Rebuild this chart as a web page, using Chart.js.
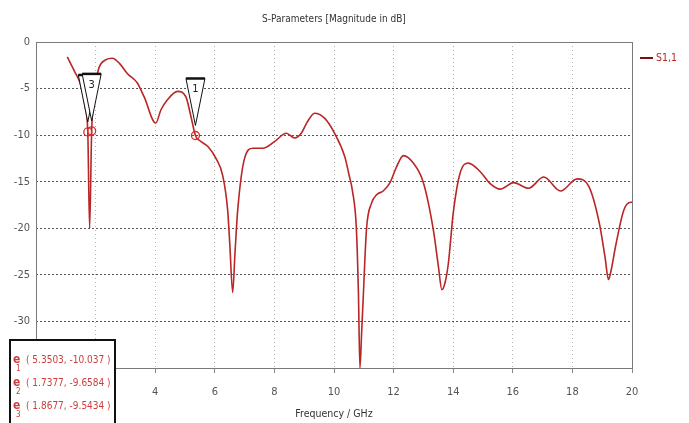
<!DOCTYPE html>
<html>
<head>
<meta charset="utf-8">
<script src="https://cdn.jsdelivr.net/npm/chart.js@4.4.1/dist/chart.umd.min.js"></script>
<style>
html,body{margin:0;padding:0;background:#fff;}
#wrap{width:689px;height:423px;position:relative;}
</style>
</head>
<body>
<div id="wrap"><canvas id="c" width="689" height="423"></canvas></div>
<script>
const chartTitle = 'S-Parameters [Magnitude in dB]';
const xTitle = 'Frequency / GHz';
const seriesName = 'S1,1';
const xTicks = [0, 2, 4, 6, 8, 10, 12, 14, 16, 18, 20];
const yTicks = [0, -5, -10, -15, -20, -25, -30, -35];
const freq = [1.05,1.3,1.5,1.65,1.7377,1.80,1.8677,1.95,2.03,2.11,2.35,2.56,2.8,3.07,3.4,3.63,4.02,4.19,4.41,4.75,5.03,5.2,5.3503,5.5,5.76,6.04,6.27,6.43,6.5,6.6,6.68,6.77,6.99,7.28,7.61,8.0,8.4,8.68,8.9,9.1,9.35,9.69,10.02,10.36,10.5,10.62,10.75,10.82,10.87,10.93,10.98,11.09,11.26,11.43,11.65,11.88,12.1,12.33,12.66,13.0,13.33,13.5,13.62,13.73,13.84,14.0,14.23,14.51,14.9,15.24,15.58,16.03,16.53,17.04,17.6,18.16,18.55,18.9,19.1,19.21,19.3,19.45,19.73,19.96,20.0];
const s11 = [-1.6,-3.2,-4.6,-7.0,-9.66,-20,-9.54,-6.0,-4.0,-2.8,-1.9,-1.75,-2.3,-3.4,-4.4,-5.9,-8.7,-7.3,-6.2,-5.3,-5.9,-8.0,-10.04,-10.6,-11.2,-12.5,-14.4,-18,-21.5,-26.9,-22.5,-18,-12.6,-11.4,-11.4,-10.7,-9.8,-10.3,-9.8,-8.6,-7.65,-8.2,-9.8,-12.3,-14.2,-16.0,-20,-27,-35,-31,-27.5,-20.1,-17.3,-16.4,-16.0,-15.1,-13.4,-12.2,-13.0,-15.1,-20.1,-24,-26.6,-25.8,-23.7,-18.4,-14.1,-13.0,-13.9,-15.2,-15.8,-15.1,-15.7,-14.5,-16.0,-14.7,-15.5,-19.4,-23.2,-25.5,-24.5,-21.9,-18.0,-17.2,-17.2];
const markerIds = ['1', '2', '3'];
const markerFreq = [5.3503, 1.7377, 1.8677];
const markerDb = [-10.037, -9.6584, -9.5434];
const markerText = ['( 5.3503, -10.037 )', '( 1.7377, -9.6584 )', '( 1.8677, -9.5434 )'];

const FONT = '"Liberation Sans Narrow", "DejaVu Sans Condensed", "Roboto Condensed", "Liberation Sans", sans-serif';
const RED = 'rgb(185,38,38)';

const overlay = {
  id: 'overlay',
  afterDraw(chart) {
    const ctx = chart.ctx, a = chart.chartArea;
    const xs = chart.scales.x, ys = chart.scales.y;
    ctx.save();
    ctx.strokeStyle = '#7a7a7a'; ctx.lineWidth = 1; ctx.setLineDash([]);
    ctx.strokeRect(Math.round(a.left)+0.5, Math.round(a.top)+0.5, Math.round(a.right-a.left), Math.round(a.bottom-a.top));
    ctx.strokeStyle = '#7a1010'; ctx.lineWidth = 2;
    ctx.beginPath(); ctx.moveTo(a.right+8, 58); ctx.lineTo(a.right+21, 58); ctx.stroke();
    ctx.fillStyle = RED; ctx.font = '10.5px ' + FONT; ctx.textBaseline = 'middle'; ctx.textAlign = 'left';
    ctx.fillText(seriesName, a.right+24, 58);
    const order = [1, 2, 0];
    order.forEach(i => {
      const px = xs.getPixelForValue(markerFreq[i]);
      const py = ys.getPixelForValue(markerDb[i]);
      const top = py - 57, apex = py - 10, hw = 9.5;
      ctx.beginPath();
      ctx.moveTo(px - hw, top); ctx.lineTo(px + hw, top); ctx.lineTo(px, apex); ctx.closePath();
      ctx.fillStyle = '#fff'; ctx.fill();
      ctx.strokeStyle = '#111'; ctx.lineWidth = 1; ctx.stroke();
      ctx.lineWidth = 2.5;
      ctx.beginPath(); ctx.moveTo(px - hw, top); ctx.lineTo(px + hw, top); ctx.stroke();
      ctx.fillStyle = '#222'; ctx.font = '11px ' + FONT; ctx.textAlign = 'center'; ctx.textBaseline = 'middle';
      ctx.fillText(markerIds[i], px, top + 11);
    });
    markerFreq.forEach((f, i) => {
      const px = xs.getPixelForValue(f), py = ys.getPixelForValue(markerDb[i]);
      ctx.beginPath(); ctx.arc(px, py, 4, 0, Math.PI*2);
      ctx.strokeStyle = 'rgb(220,40,40)'; ctx.lineWidth = 1.3; ctx.stroke();
    });
    ctx.fillStyle = '#fff'; ctx.fillRect(9, 339, 107, 90);
    ctx.strokeStyle = '#111'; ctx.lineWidth = 2; ctx.strokeRect(10, 340, 105, 90);
    const rows = [360, 383, 406];
    rows.forEach((ry, i) => {
      ctx.fillStyle = 'rgb(205,60,60)'; ctx.textAlign = 'left'; ctx.textBaseline = 'middle';
      ctx.font = 'bold 12px ' + FONT;
      ctx.fillText('e', 13, ry);
      ctx.font = '8px ' + FONT;
      ctx.fillText(markerIds[i], 16, ry + 9);
      ctx.font = '10px ' + FONT;
      ctx.fillText(markerText[i], 26, ry);
    });
    ctx.restore();
  }
};

new Chart(document.getElementById('c'), {
  type: 'line',
  data: {
    datasets: [{
      label: seriesName,
      data: freq.map((f, i) => ({x: f, y: s11[i]})),
      borderColor: RED,
      borderWidth: 1.6,
      pointRadius: 0,
      cubicInterpolationMode: 'monotone',
      fill: false
    }]
  },
  options: {
    responsive: false,
    animation: false,
    layout: {padding: {left: 0, right: 57, top: 0, bottom: 0}},
    plugins: {
      legend: {display: false},
      tooltip: {enabled: false},
      title: {
        display: true, text: chartTitle, fullSize: false, color: '#333',
        font: {family: FONT, size: 10, weight: 'normal'},
        padding: {top: 13, bottom: 17}
      }
    },
    scales: {
      x: {
        type: 'linear', min: 0, max: 20,
        afterBuildTicks: s => { s.ticks = xTicks.map(v => ({value: v})); },
        afterFit: s => { s.height = 55; },
        grid: {color: '#b0b0b0', lineWidth: 1, tickLength: 5, tickColor: '#888'},
        border: {display: false, dash: [1, 3]},
        ticks: {color: '#555', padding: 13, font: {family: FONT, size: 11}, maxRotation: 0},
        title: {display: true, text: xTitle, color: '#333', font: {family: FONT, size: 10.5}, padding: {top: 0, bottom: 2}}
      },
      y: {
        type: 'linear', min: -35, max: 0,
        afterBuildTicks: s => { s.ticks = yTicks.map(v => ({value: v})); },
        afterFit: s => { s.width = 36; },
        grid: {color: '#555', lineWidth: 1, drawTicks: false},
        border: {display: false, dash: [2, 2]},
        ticks: {color: '#555', padding: 6, font: {family: FONT, size: 11}}
      }
    }
  },
  plugins: [overlay]
});
</script>
</body>
</html>
